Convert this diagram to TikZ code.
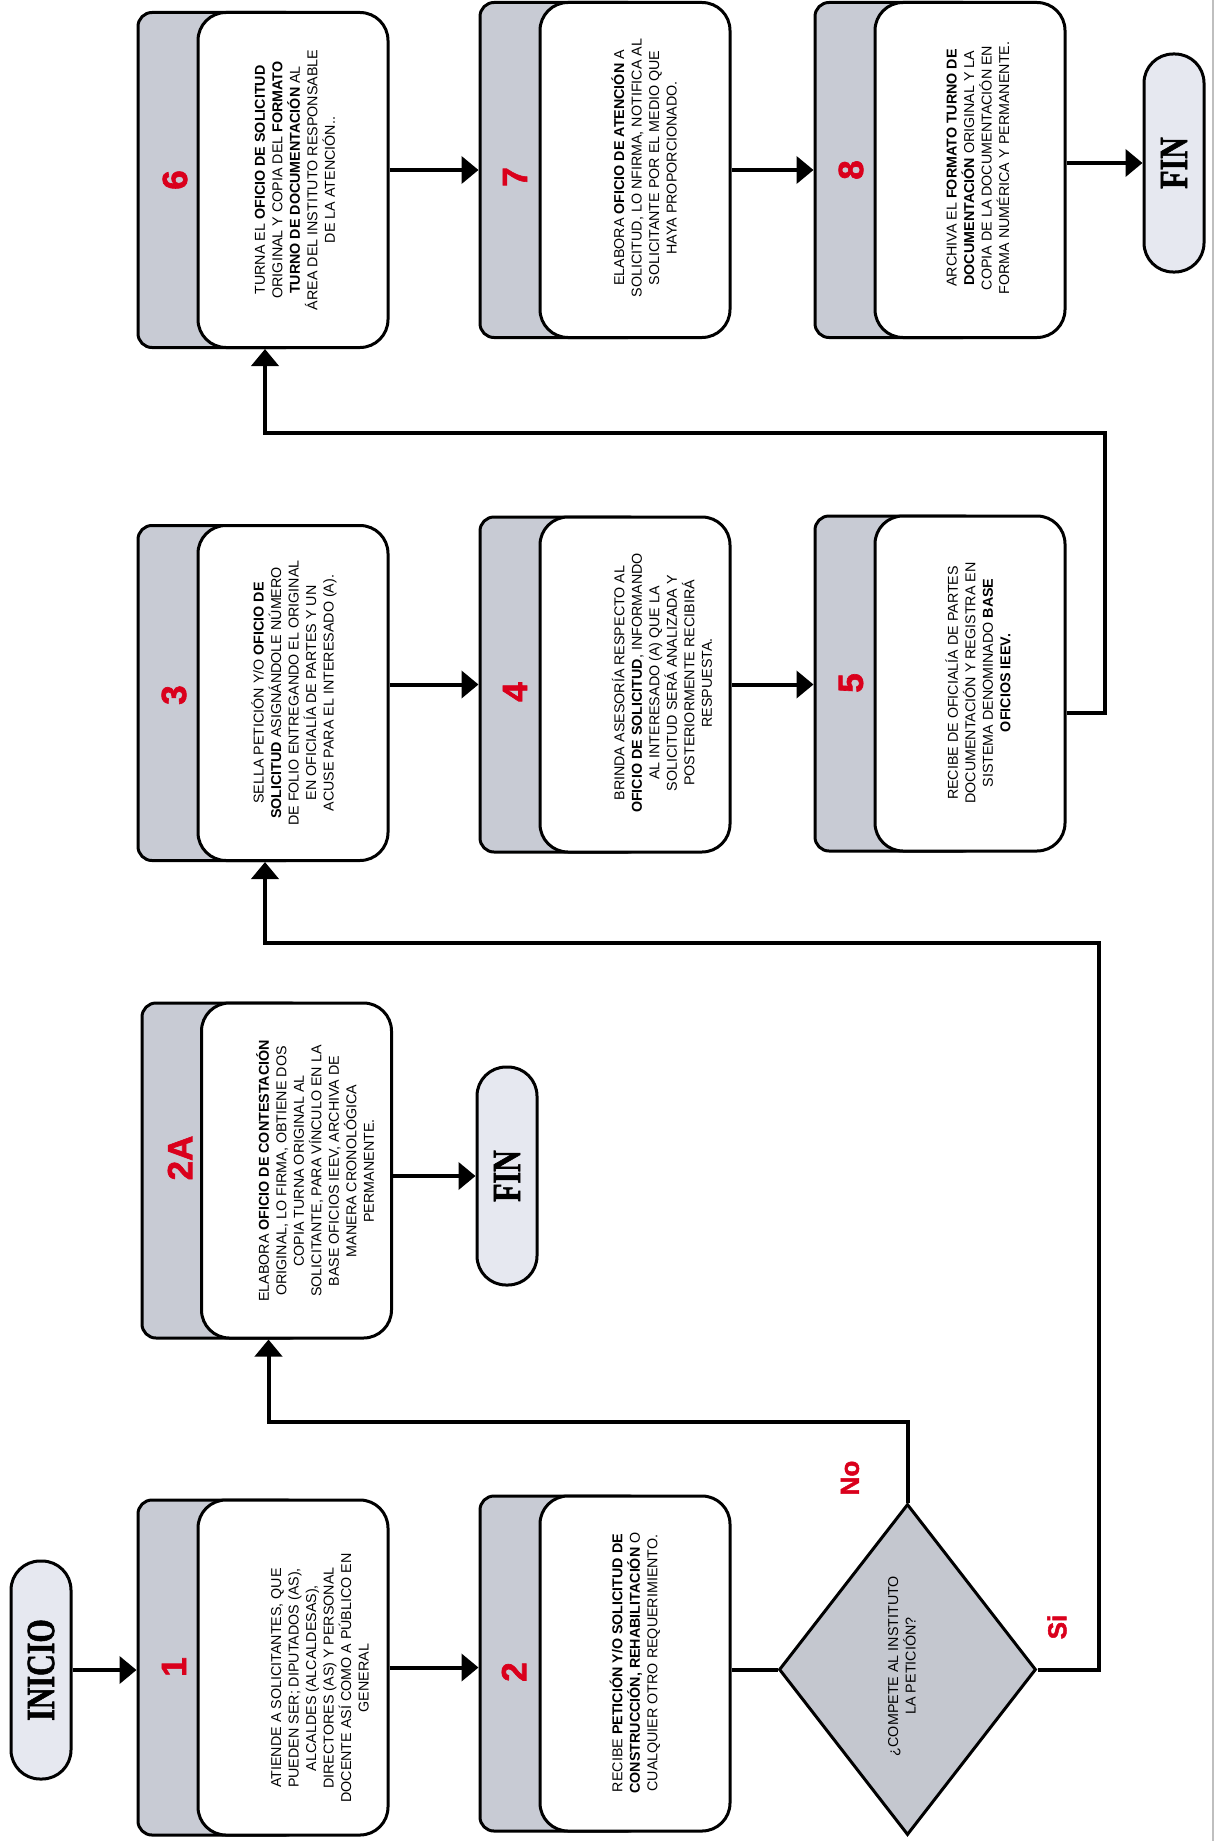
\documentclass[tikz,border=0pt]{standalone}
\usepackage{fontspec}
\setmainfont{Liberation Sans}
\newfontfamily\termfont[FakeBold=1.6]{Liberation Serif Bold}
\newfontfamily\numfont[FakeBold=1.8]{Liberation Sans Bold}
\usepackage{graphicx}
\usetikzlibrary{arrows.meta,shapes.geometric,calc}
\definecolor{boxgray}{RGB}{200,203,212}
\definecolor{termfill}{RGB}{230,232,240}
\definecolor{decgray}{RGB}{196,199,207}
\definecolor{stepred}{RGB}{218,0,28}

\begin{document}
\begin{tikzpicture}[x=1pt,y=-1pt,
  graybox/.style={draw=black,line width=3pt,fill=boxgray,rounded corners=14pt,
    minimum width=162pt,minimum height=335pt,inner sep=0pt},
  whitebox/.style={draw=black,line width=3pt,fill=white,rounded corners=28pt,
    minimum width=190pt,minimum height=335pt,inner sep=0pt},
  steptext/.style={rotate=90,align=center,inner sep=0pt,
    font=\fontsize{14.3}{17.5}\selectfont},
  stepnum/.style={rotate=90,inner sep=0pt,text=stepred,
    font={\numfont\fontsize{35}{40}\selectfont}},
  terminal/.style={draw=black,line width=3pt,fill=termfill,rounded corners=29pt,
    minimum width=60pt,minimum height=218pt,inner sep=0pt,
    font={\termfont\fontsize{40}{44}\selectfont}},
  decision/.style={diamond,draw=black,line width=3pt,fill=decgray,
    minimum width=257pt,minimum height=331pt,inner sep=0pt},
  conn/.style={line width=4pt},
  arr/.style={conn,-{Triangle[length=17pt,width=27pt]}},
  branch/.style={rotate=90,inner sep=0pt,text=stepred,
    font={\numfont\fontsize{26}{30}\selectfont}},
]
\useasboundingbox (0,0) rectangle (1216,1841);
\fill[white] (0,0) rectangle (1216,1841);
\draw[black!25,line width=1.5pt] (1213,0) -- (1213,1841);

% start and end terminals
\node[terminal] (ini) at (41,1670) {\rotatebox{90}{\scalebox{0.75}[1]{INICIO}}};
\node[terminal] (fin1) at (507,1176) {\rotatebox{90}{\scalebox{0.75}[1]{FIN}}};
\node[terminal] (fin2) at (1174,163) {\rotatebox{90}{\scalebox{0.75}[1]{FIN}}};

% step 1
\node[graybox] (b1) at (219,1667.5) {};
\node[whitebox] (b1w) at (293,1667.5) {};
\node[stepnum] (n1) at (174,1667) {1};
\node[steptext] (t1) at (320,1678) {ATIENDE A SOLICITANTES, QUE\\PUEDEN SER; DIPUTADOS (AS),\\ALCALDES (ALCALDESAS),\\DIRECTORES (AS) Y PERSONAL\\DOCENTE ASÍ COMO A PÚBLICO EN\\GENERAL};

% step 2
\node[graybox] (b2) at (561,1663.5) {};
\node[whitebox] (b2w) at (635,1663.5) {};
\node[stepnum] (n2) at (514,1672) {2};
\node[steptext] (t2) at (635,1663) {RECIBE \textbf{PETICIÓN Y/O SOLICITUD DE}\\\textbf{CONSTRUCCIÓN, REHABILITACIÓN} O\\CUALQUIER OTRO REQUERIMIENTO.};

% decision
\node[decision] (dec) at (907.5,1669.5) {};
\node[steptext] (tdec) at (902,1666) {¿COMPETE AL INSTITUTO\\LA PETICIÓN?};

% step 2A
\node[graybox] (b2a) at (223,1170.5) {};
\node[whitebox] (b2aw) at (296.5,1170.5) {};
\node[stepnum] (n2a) at (180,1158) {2A};
\node[steptext] (t2a) at (315,1171) {ELABORA \textbf{OFICIO DE CONTESTACIÓN}\\ORIGINAL, LO FIRMA, OBTIENE DOS\\COPIA TURNA ORIGINAL AL\\SOLICITANTE, PARA VÍNCULO EN LA\\BASE OFICIOS IEEV, ARCHIVA DE\\MANERA CRONOLÓGICA\\PERMANENTE.};

% step 3
\node[graybox] (b3) at (219,693) {};
\node[whitebox] (b3w) at (293,693) {};
\node[stepnum] (n3) at (174,695) {3};
\node[steptext] (t3) at (294,693) {SELLA PETICIÓN Y/O \textbf{OFICIO DE}\\\textbf{SOLICITUD} ASIGNÁNDOLE NÚMERO\\DE FOLIO ENTREGANDO EL ORIGINAL\\EN OFICIALÍA DE PARTES Y UN\\ACUSE PARA EL INTERESADO (A).};

% step 4
\node[graybox] (b4) at (561,684.5) {};
\node[whitebox] (b4w) at (635,684.5) {};
\node[stepnum] (n4) at (515,692) {4};
\node[steptext] (t4) at (662,683) {BRINDA ASESORÍA RESPECTO AL\\\textbf{OFICIO DE SOLICITUD}, INFORMANDO\\AL INTERESADO (A) QUE LA\\SOLICITUD SERÁ ANALIZADA Y\\POSTERIORMENTE RECIBIRÁ\\RESPUESTA.};

% step 5
\node[graybox] (b5) at (896,683.5) {};
\node[whitebox] (b5w) at (970,683.5) {};
\node[stepnum] (n5) at (851,683) {5};
\node[steptext] (t5) at (978,683) {RECIBE DE OFICIALÍA DE PARTES\\DOCUMENTACIÓN Y REGISTRA EN\\SISTEMA DENOMINADO \textbf{BASE}\\\textbf{OFICIOS IEEV.}};

% step 6
\node[graybox] (b6) at (219,180) {};
\node[whitebox] (b6w) at (293,180) {};
\node[stepnum] (n6) at (175,180) {6};
\node[steptext] (t6) at (295,180) {TURNA EL \textbf{OFICIO DE SOLICITUD}\\ORIGINAL Y COPIA DEL \textbf{FORMATO}\\\textbf{TURNO DE DOCUMENTACIÓN} AL\\ÁREA DEL INSTITUTO RESPONSABLE\\DE LA ATENCIÓN..};

% step 7
\node[graybox] (b7) at (561,170) {};
\node[whitebox] (b7w) at (635,170) {};
\node[stepnum] (n7) at (515,177) {7};
\node[steptext] (t7) at (644,168) {ELABORA \textbf{OFICIO DE ATENCIÓN} A\\SOLICITUD, LO NFIRMA, NOTIFICA AL\\SOLICITANTE POR EL MEDIO QUE\\HAYA PROPORCIONADO.};

% step 8
\node[graybox] (b8) at (896,170) {};
\node[whitebox] (b8w) at (970,170) {};
\node[stepnum] (n8) at (851,170) {8};
\node[steptext] (t8) at (978,168) {ARCHIVA EL \textbf{FORMATO TURNO DE}\\\textbf{DOCUMENTACIÓN} ORIGINAL Y LA\\COPIA DE LA DOCUMENTACIÓN EN\\FORMA NUMÉRICA Y PERMANENTE.};

% branch labels
\node[branch] (lno) at (850,1478) {No};
\node[branch] (lsi) at (1057,1627) {Si};

% connectors
\coordinate (noturn) at (907.5,1422);
\coordinate (siturn) at (1099,943);
\coordinate (turn56) at (1105,433);

\draw[arr] (ini.east) -- (ini.east -| b1.west);
\draw[arr] (b1w.east) -- (b1w.east -| b2.west);
\draw[conn] (dec.west -| b2w.east) -- (dec.west);
\draw[arr] (dec.north) -- (noturn) -| ($(b2aw.south)+(-28,0)$);
\draw[arr] (dec.east) -| (siturn) -| ($(b3w.south)+(-28,0)$);
\draw[arr] (fin1.west -| b2aw.east) -- (fin1.west);
\draw[arr] (b4.west -| b3w.east) -- (b4.west);
\draw[arr] (b4w.east) -- (b4w.east -| b5.west);
\draw[arr] ($(b5w.east)+(0,29.5)$) -| (turn56) -| ($(b6w.south)+(-28,0)$);
\draw[arr] (b7.west -| b6w.east) -- (b7.west);
\draw[arr] (b7w.east) -- (b7w.east -| b8.west);
\draw[arr] (fin2.west -| b8w.east) -- (fin2.west);
\end{tikzpicture}
\end{document}
